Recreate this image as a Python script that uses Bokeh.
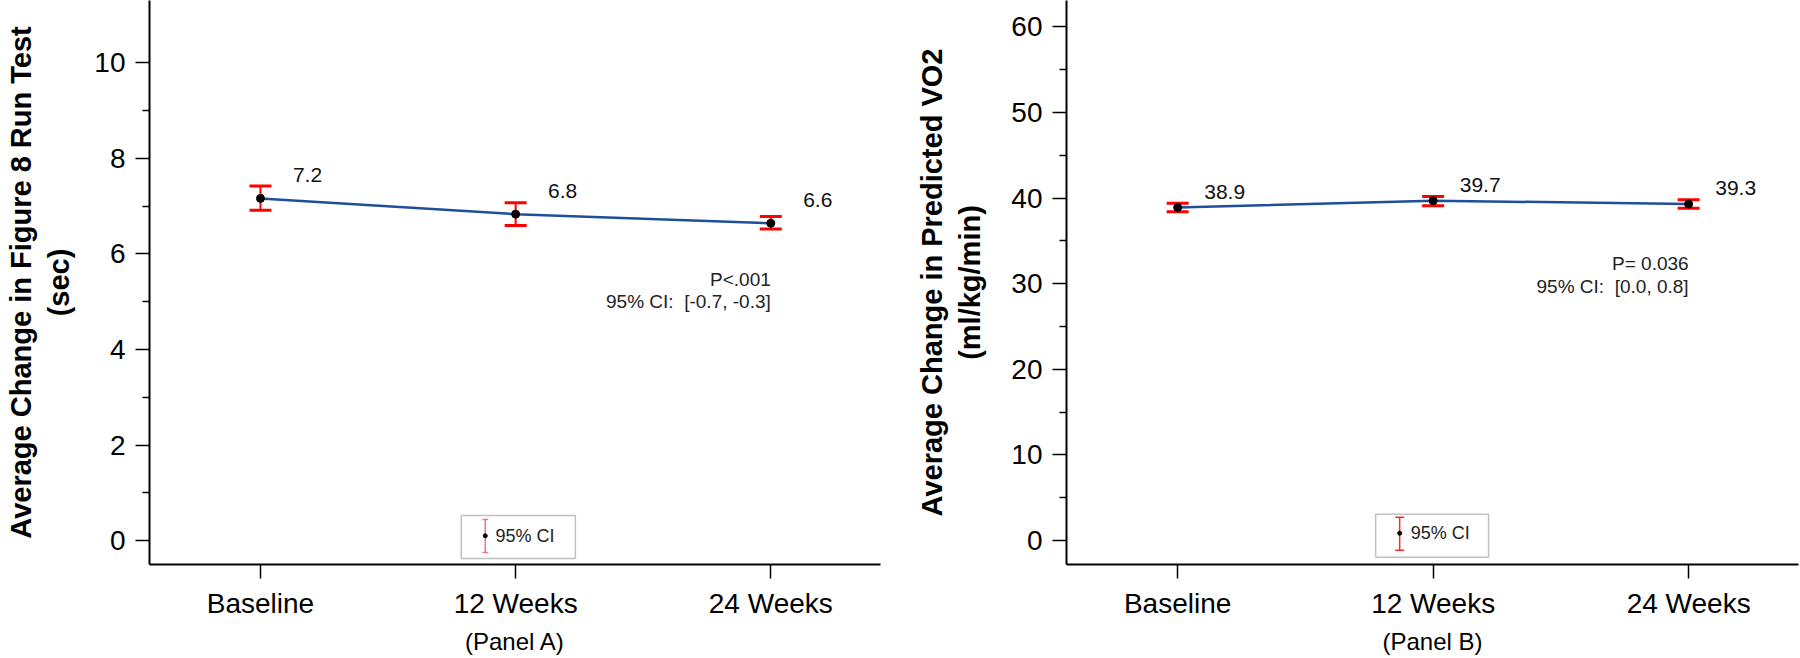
from bokeh.plotting import figure
from bokeh.layouts import row
from bokeh.models import ColumnDataSource, FixedTicker, Range1d, BoxAnnotation
from bokeh.embed import file_html
from bokeh.resources import INLINE
from bokeh.core.properties import value

# ---------------- data ----------------
timepoints = ["Baseline", "12 Weeks", "24 Weeks"]

run_mean = [7.16, 6.83, 6.64]
run_lower = [6.91, 6.59, 6.52]
run_upper = [7.42, 7.07, 6.78]

vo2_mean = [38.9, 39.7, 39.3]
vo2_lower = [38.4, 39.1, 38.8]
vo2_upper = [39.4, 40.2, 39.8]

NB = "\u00a0"
run_stats = ["P<.001", "95% CI:" + NB + NB + "[-0.7, -0.3]"]
vo2_stats = ["P= 0.036", "95% CI:" + NB + NB + "[0.0, 0.8]"]

run_yticks = [0, 2, 4, 6, 8, 10]
run_yminor = [1, 3, 5, 7, 9]
vo2_yticks = [0, 10, 20, 30, 40, 50, 60]
vo2_yminor = [5, 15, 25, 35, 45, 55]

FONT = "Liberation Sans"
LINE_BLUE = "#1F4E9A"
HEIGHT = 658


def make_panel(means, lowers, uppers, stats, yticks, yminor, ylabel, xlabel,
               width, border_left, border_right, x_end, y_range, label_standoff,
               value_yoff, stats_y, legend):
    xs = list(range(len(timepoints)))
    src = ColumnDataSource(dict(x=xs, m=means, lo=lowers, hi=uppers,
                                lab=[f"{v:.1f}" for v in means]))
    p = figure(width=width, height=HEIGHT, output_backend="svg", toolbar_location=None,
               x_range=Range1d(-0.435, x_end), y_range=Range1d(*y_range),
               min_border_left=border_left, min_border_right=border_right,
               min_border_top=0, min_border_bottom=94)
    p.outline_line_color = None
    p.xgrid.visible = False
    p.ygrid.visible = False
    p.background_fill_color = "white"
    p.border_fill_color = "white"

    # axes
    for ax in (p.xaxis[0], p.yaxis[0]):
        ax.axis_line_width = 2
        ax.axis_line_color = "black"
        ax.major_tick_line_width = 1.5
        ax.major_tick_line_color = "black"
        ax.major_tick_in = 0
        ax.major_tick_out = 14
        ax.major_label_text_font = FONT
        ax.major_label_text_font_size = "28px"
        ax.major_label_text_color = "black"
    xa = p.xaxis[0]
    xa.ticker = FixedTicker(ticks=xs)
    xa.major_label_overrides = {i: t for i, t in enumerate(timepoints)}
    xa.minor_tick_line_color = None
    xa.major_label_standoff = 9
    xa.axis_label = xlabel
    xa.axis_label_text_font = FONT
    xa.axis_label_text_font_style = "normal"
    xa.axis_label_text_font_size = "24px"
    xa.axis_label_standoff = 6
    xa.axis_label_text_color = "black"

    ya = p.yaxis[0]
    ya.ticker = FixedTicker(ticks=yticks, minor_ticks=yminor)
    ya.minor_tick_in = 0
    ya.minor_tick_out = 7
    ya.minor_tick_line_width = 1.5
    ya.minor_tick_line_color = "black"
    ya.major_label_standoff = 10
    ya.axis_label = ylabel
    ya.axis_label_text_font = FONT
    ya.axis_label_text_font_style = "bold"
    ya.axis_label_text_font_size = "29px"
    ya.axis_label_standoff = label_standoff
    ya.axis_label_text_color = "black"

    # series
    p.line("x", "m", source=src, line_color=LINE_BLUE, line_width=2.5)
    p.segment(x0="x", x1="x", y0="lo", y1="hi", source=src, line_color="red", line_width=2)
    p.scatter("x", "hi", source=src, marker="dash", size=22, line_color="red", line_width=3)
    p.scatter("x", "lo", source=src, marker="dash", size=22, line_color="red", line_width=3)
    p.scatter("x", "m", source=src, marker="circle", size=8, fill_color="black", line_color="black")
    p.text("x", "m", text="lab", source=src, x_offset=47, y_offset=value_yoff,
           text_align="center", text_baseline="middle", text_font=value(FONT),
           text_font_size="21px", text_color="#111111")

    # statistics note (right aligned on the last time point)
    ssrc = ColumnDataSource(dict(x=[xs[-1]] * len(stats), y=stats_y, t=stats))
    p.text("x", "y", text="t", source=ssrc, text_align="right", text_baseline="middle",
           text_font=value(FONT), text_font_size="19px", text_color="#222222")

    # legend box
    L = legend
    p.add_layout(BoxAnnotation(left=L["box"][0], right=L["box"][1], bottom=L["box"][2],
                               top=L["box"][3], fill_color="white", fill_alpha=1,
                               line_color="#333333", line_width=1.5, level="underlay"))
    lsrc = ColumnDataSource(dict(x=[L["bar_x"]], lo=[L["bar"][0]], hi=[L["bar"][1]],
                                 dy=[L["dot_y"]]))
    p.segment(x0="x", x1="x", y0="lo", y1="hi", source=lsrc, line_color=L["color"], line_width=1.5)
    p.scatter("x", "hi", source=lsrc, marker="dash", size=L["cap"], line_color=L["color"], line_width=1.5)
    p.scatter("x", "lo", source=lsrc, marker="dash", size=L["cap"], line_color=L["color"], line_width=1.5)
    p.scatter("x", "dy", source=lsrc, marker="circle", size=4, fill_color="black", line_color="black")
    tsrc = ColumnDataSource(dict(x=[L["text_x"]], y=[L["dot_y"]], t=["95% CI"]))
    p.text("x", "y", text="t", source=tsrc, text_align="left", text_baseline="middle",
           text_font=value(FONT), text_font_size="18px", text_color="#222222")
    return p


p1 = make_panel(run_mean, run_lower, run_upper, run_stats, run_yticks, run_yminor,
                "Average Change in Figure 8 Run Test\n(sec)", "(Panel A)",
                width=905, border_left=149, border_right=25, x_end=2.43,
                y_range=(-0.5, 11.3), label_standoff=16, value_yoff=-23,
                stats_y=[5.46, 5.0],
                legend=dict(box=(0.787, 1.234, -0.377, 0.523), bar_x=0.881, bar=(-0.25, 0.44),
                            dot_y=0.10, text_x=0.921, color="#F07878", cap=6))

p2 = make_panel(vo2_mean, vo2_lower, vo2_upper, vo2_stats, vo2_yticks, vo2_yminor,
                "Average Change in Predicted VO2\n(ml/kg/min)", "(Panel B)",
                width=895, border_left=161, border_right=2, x_end=2.43,
                y_range=(-2.8, 63.08), label_standoff=22, value_yoff=-16,
                stats_y=[32.4, 29.7],
                legend=dict(box=(0.775, 1.217, -1.95, 3.07), bar_x=0.869, bar=(-1.13, 2.72),
                            dot_y=0.85, text_x=0.912, color="#FF2A2A", cap=9))

layout = row(p1, p2, spacing=0)
open("out.html", "w").write(file_html(layout, INLINE))
